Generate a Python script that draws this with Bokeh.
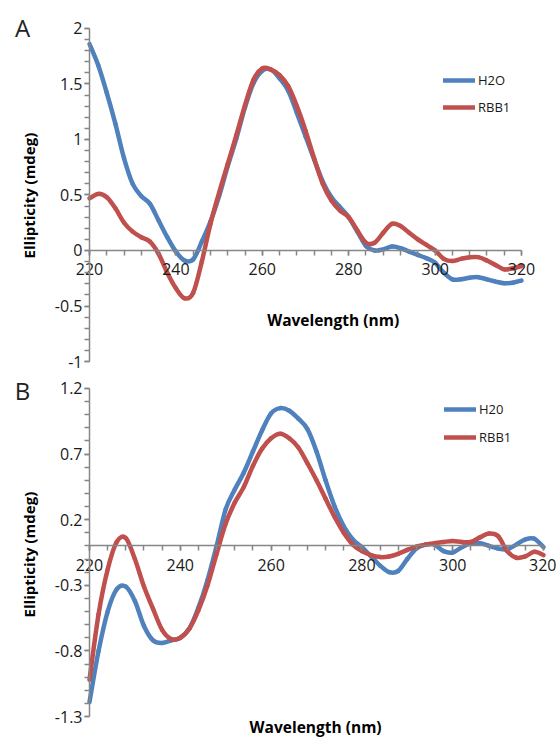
import math
from bokeh.plotting import figure
from bokeh.layouts import column
from bokeh.models import (Range1d, FixedTicker, NumeralTickFormatter, Label,
                          Legend, LegendItem, LinearAxis)
from bokeh.embed import file_html
from bokeh.resources import INLINE

# ---------------- data ----------------
wavelength = list(range(220, 322, 2))

a_h2o = [1.86, 1.67, 1.42, 1.14, 0.83, 0.60, 0.49, 0.42, 0.27, 0.12,
         -0.01, -0.09, -0.08, 0.08, 0.26, 0.49, 0.76, 1.01, 1.29, 1.51,
         1.62, 1.63, 1.55, 1.44, 1.24, 1.03, 0.82, 0.62, 0.48, 0.39,
         0.30, 0.17, 0.04, 0.00, 0.01, 0.035, 0.02, -0.01, -0.04, -0.07,
         -0.11, -0.20, -0.26, -0.26, -0.245, -0.24, -0.26, -0.28, -0.295, -0.29,
         -0.27]
a_rbb1 = [0.47, 0.51, 0.48, 0.38, 0.25, 0.17, 0.12, 0.08, -0.03, -0.20,
          -0.34, -0.43, -0.38, -0.10, 0.24, 0.52, 0.78, 1.04, 1.31, 1.54,
          1.64, 1.63, 1.58, 1.48, 1.30, 1.08, 0.83, 0.60, 0.45, 0.36,
          0.30, 0.18, 0.07, 0.07, 0.16, 0.24, 0.22, 0.16, 0.10, 0.05,
          0.00, -0.075, -0.095, -0.075, -0.06, -0.06, -0.09, -0.13, -0.17, -0.16,
          -0.14]
b_h2o = [-1.19, -0.80, -0.50, -0.33, -0.31, -0.42, -0.61, -0.72, -0.74, -0.72,
         -0.70, -0.63, -0.47, -0.26, 0.00, 0.28, 0.43, 0.56, 0.72, 0.88,
         1.01, 1.05, 1.03, 0.97, 0.89, 0.72, 0.50, 0.30, 0.15, 0.05,
         -0.01, -0.08, -0.15, -0.20, -0.19, -0.10, -0.02, 0.01, 0.01, -0.04,
         -0.05, -0.01, 0.02, 0.02, 0.00, -0.02, -0.025, 0.01, 0.05, 0.055,
         -0.01]
b_rbb1 = [-1.02, -0.52, -0.18, 0.03, 0.06, -0.10, -0.31, -0.48, -0.64, -0.71,
          -0.70, -0.63, -0.49, -0.30, -0.06, 0.17, 0.33, 0.45, 0.61, 0.74,
          0.82, 0.855, 0.82, 0.75, 0.63, 0.50, 0.36, 0.22, 0.10, 0.01,
          -0.04, -0.07, -0.085, -0.08, -0.06, -0.03, -0.005, 0.01, 0.02, 0.03,
          0.038, 0.03, 0.03, 0.065, 0.095, 0.075, -0.04, -0.09, -0.08, -0.045,
          -0.07]

x_ticks = [220, 240, 260, 280, 300, 320]
x_minor = list(range(220, 321, 4))
a_y_ticks = [-1, -0.5, 0, 0.5, 1, 1.5, 2]
a_y_minor = [round(-1 + 0.1 * i, 1) for i in range(31)]
b_y_ticks = [-1.3, -0.8, -0.3, 0.2, 0.7, 1.2]
b_y_minor = [round(-1.3 + 0.1 * i, 1) for i in range(26)]

series_names_a = ["H2O", "RBB1"]
series_names_b = ["H20", "RBB1"]

BLUE = "#4F81BD"
RED = "#C0504D"
AXIS = "#868686"
FONT = "Open Sans"


def smooth_segments(xs, ys):
    """Excel-style smoothed line: cubic Bezier segments through the data points."""
    n = len(xs)
    seg = {k: [] for k in ("x0", "y0", "x1", "y1", "cx0", "cy0", "cx1", "cy1")}
    for i in range(n - 1):
        im = max(i - 1, 0)
        ip = min(i + 2, n - 1)
        seg["x0"].append(xs[i]); seg["y0"].append(ys[i])
        seg["x1"].append(xs[i + 1]); seg["y1"].append(ys[i + 1])
        seg["cx0"].append(xs[i] + (xs[i + 1] - xs[im]) / 6)
        seg["cy0"].append(ys[i] + (ys[i + 1] - ys[im]) / 6)
        seg["cx1"].append(xs[i + 1] - (xs[ip] - xs[i]) / 6)
        seg["cy1"].append(ys[i + 1] - (ys[ip] - ys[i]) / 6)
    return seg


def make_panel(height, xr, yr, ybounds, yticks, yminor, h2o, rbb1, names,
               legend_loc, spacing, letter_xy, letter, xlabel_xy, ylabel_xy):
    p = figure(width=556, height=height,
               x_range=Range1d(*xr), y_range=Range1d(*yr),
               output_backend="svg", toolbar_location=None,
               x_axis_type=None, y_axis_type=None,
               min_border_left=0, min_border_right=0,
               min_border_top=0, min_border_bottom=0)
    p.grid.visible = False
    p.outline_line_color = None

    yaxis = LinearAxis(ticker=FixedTicker(ticks=yticks, minor_ticks=yminor),
                       formatter=NumeralTickFormatter(format="0.[0]"),
                       fixed_location=220, bounds=ybounds)
    xaxis = LinearAxis(ticker=FixedTicker(ticks=x_ticks, minor_ticks=x_minor),
                       fixed_location=0, bounds=(220, 320))
    for ax in (xaxis, yaxis):
        ax.axis_line_color = AXIS
        ax.axis_line_width = 1.5
        ax.major_tick_line_color = AXIS
        ax.minor_tick_line_color = AXIS
        ax.major_tick_line_width = 1.5
        ax.minor_tick_line_width = 1.5
        ax.major_tick_out = 5
        ax.major_tick_in = 0
        ax.minor_tick_out = 5
        ax.minor_tick_in = 0
        ax.major_label_text_font = FONT
        ax.major_label_text_font_size = "16px"
        ax.major_label_text_color = "#1a1a1a"
    yaxis.major_label_standoff = 2
    xaxis.major_label_standoff = 8
    p.add_layout(yaxis, "left")
    p.add_layout(xaxis, "below")

    s1 = smooth_segments(wavelength, h2o)
    s2 = smooth_segments(wavelength, rbb1)
    r1 = p.bezier(line_color=BLUE, line_width=4.5, line_cap="round", **s1)
    r2 = p.bezier(line_color=RED, line_width=4.5, line_cap="round", **s2)

    legend = Legend(items=[LegendItem(label=names[0], renderers=[r1]),
                           LegendItem(label=names[1], renderers=[r2])],
                    location=legend_loc, border_line_color=None,
                    background_fill_alpha=0, padding=0, margin=0,
                    spacing=spacing, glyph_width=32, glyph_height=20,
                    label_height=20, label_standoff=3,
                    label_text_font=FONT, label_text_font_size="13px",
                    label_text_color="#1a1a1a")
    p.add_layout(legend)

    p.add_layout(Label(x=xlabel_xy[0], y=xlabel_xy[1], text="Wavelength (nm)",
                       text_align="center", text_baseline="middle",
                       text_font=FONT, text_font_size="15.5px",
                       text_font_style="bold", text_color="#000000"))
    p.add_layout(Label(x=ylabel_xy[0], y=ylabel_xy[1], text="Ellipticity (mdeg)",
                       angle=math.pi / 2, text_align="center", text_baseline="middle",
                       text_font=FONT, text_font_size="15px",
                       text_font_style="bold", text_color="#000000"))
    p.add_layout(Label(x=letter_xy[0], y=letter_xy[1], text=letter,
                       text_align="center", text_baseline="middle",
                       text_font=FONT, text_font_size="24px",
                       text_color="#222222"))
    return p


# panel A: 220 nm at x=89, 4.32 px/nm; y=0 at 250, 111 px/unit
pA = make_panel(373, (199.40, 328.10), (-1.108, 2.252), (-1, 2),
                a_y_ticks, a_y_minor, a_h2o, a_rbb1, series_names_a,
                (443, 256), 7, (204.49, 2.009), "A",
                (276.4, -0.622), (206.11, 0.495))
# panel B: 220 nm at x=89, 4.54 px/nm; y=0 at window 545.4, 131.2 px/unit
pB = make_panel(364, (200.40, 322.86), (-1.460, 1.314), (-1.3, 1.2),
                b_y_ticks, b_y_minor, b_h2o, b_rbb1, series_names_b,
                (444, 290), 8, (205.24, 1.184), "B",
                (269.8, -1.377), (206.78, -0.066))

layout = column(pA, pB, spacing=0)
open("out.html", "w").write(file_html(layout, INLINE))
